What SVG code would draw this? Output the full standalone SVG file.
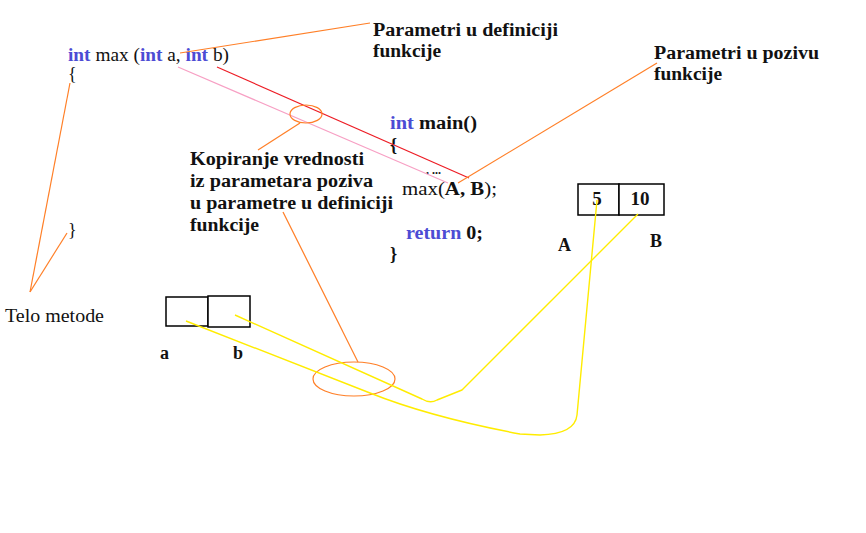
<svg xmlns="http://www.w3.org/2000/svg" width="866" height="533" viewBox="0 0 866 533">
<style>
text{font-family:"Liberation Serif","DejaVu Serif",serif;font-size:18px;fill:#111}
.b{font-weight:bold}
.k{font-weight:bold;fill:#4c4cd4}
.box{fill:#fff;stroke:#000;stroke-width:1.5}
.or{stroke:#ff7f27;stroke-width:1.2;fill:none}
.yl{stroke:#ffec00;stroke-width:1.4;fill:none;stroke-linejoin:round}
</style>
<rect width="866" height="533" fill="#fff"/>
<g id="max-def">
<text x="68" y="61" textLength="161" lengthAdjust="spacingAndGlyphs"><tspan class="k">int</tspan> max (<tspan class="k">int</tspan> a, <tspan class="k">int</tspan> b)</text>
<text x="68" y="80">{</text>
<text x="68" y="236">}</text>
</g>
<g id="telo-metode"><text x="5" y="322" textLength="99" lengthAdjust="spacingAndGlyphs">Telo metode</text></g>
<g id="label-def">
<text class="b" x="373" y="36" textLength="185" lengthAdjust="spacingAndGlyphs">Parametri u definiciji</text>
<text class="b" x="373" y="57" textLength="68" lengthAdjust="spacingAndGlyphs">funkcije</text>
</g>
<g id="label-poziv">
<text class="b" x="654" y="59" textLength="165" lengthAdjust="spacingAndGlyphs">Parametri u pozivu</text>
<text class="b" x="654" y="80" textLength="68" lengthAdjust="spacingAndGlyphs">funkcije</text>
</g>
<g id="main">
<text class="b" x="390" y="129" textLength="87" lengthAdjust="spacingAndGlyphs"><tspan class="k">int</tspan> main()</text>
<text class="b" x="390" y="151">{</text>
<text class="b" x="426" y="174" style="font-size:12px">. ...</text>
<text x="402" y="195" textLength="95" lengthAdjust="spacingAndGlyphs">max(<tspan class="b">A, B</tspan>);</text>
<text class="b" x="406" y="239" textLength="77" lengthAdjust="spacingAndGlyphs"><tspan class="k">return</tspan> 0;</text>
<text class="b" x="390" y="260">}</text>
</g>
<g id="label-kopiranje">
<text class="b" x="190" y="165" textLength="174" lengthAdjust="spacingAndGlyphs">Kopiranje vrednosti</text>
<text class="b" x="190" y="187" textLength="183" lengthAdjust="spacingAndGlyphs">iz parametara poziva</text>
<text class="b" x="190" y="209" textLength="203" lengthAdjust="spacingAndGlyphs">u parametre u definiciji</text>
<text class="b" x="190" y="231" textLength="69" lengthAdjust="spacingAndGlyphs">funkcije</text>
</g>
<g id="box-ab">
<rect class="box" x="166" y="297" width="42" height="29"/>
<rect class="box" x="208" y="296" width="42" height="31"/>
<text class="b" x="160" y="359">a</text>
<text class="b" x="233" y="359">b</text>
</g>
<g id="box-AB">
<rect class="box" x="578" y="184" width="41" height="31"/>
<rect class="box" x="619" y="184" width="45" height="31"/>
<text class="b" x="597" y="205" text-anchor="middle" style="font-size:19px">5</text>
<text class="b" x="640" y="205" text-anchor="middle" style="font-size:19px">10</text>
<text class="b" x="558" y="251">A</text>
<text class="b" x="650" y="247">B</text>
</g>
<g id="connectors">
<line class="or" x1="180" y1="53" x2="370" y2="23"/>
<line x1="217" y1="67" x2="469" y2="178" stroke="#ed1c24" stroke-width="1.2"/>
<line x1="178" y1="67" x2="448" y2="183" stroke="#f7a0c4" stroke-width="1.2"/>
<line class="or" x1="458" y1="183" x2="657" y2="63"/>
<ellipse class="or" cx="306" cy="114" rx="16" ry="9"/>
<line class="or" x1="300" y1="123" x2="258" y2="150"/>
<line class="or" x1="70" y1="83" x2="30" y2="292"/>
<line class="or" x1="67" y1="233" x2="30" y2="292"/>
<line class="or" x1="283" y1="212" x2="358" y2="362"/>
<ellipse class="or" cx="354" cy="379" rx="41" ry="17"/>
<path class="yl" d="M235,315 L422,399 Q430,404 437,400 L462,390 L638,214"/>
<path class="yl" d="M186,321 L370,393 Q430,417 520,434 L540,435 Q575,434 577,415 L597,200"/>
</g>
</svg>
